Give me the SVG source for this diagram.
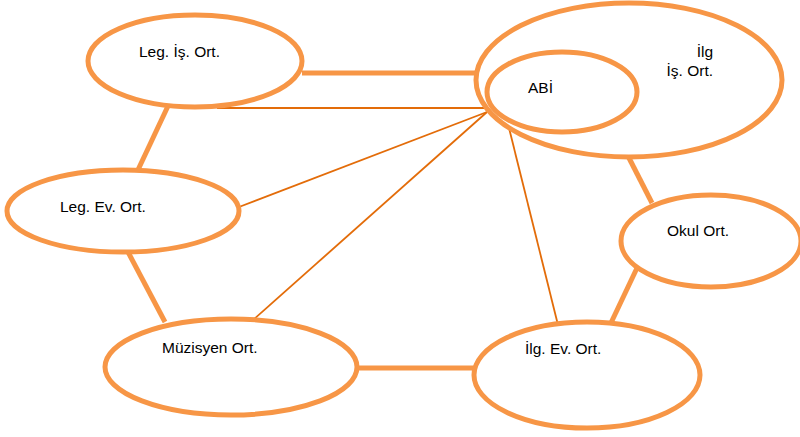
<svg xmlns="http://www.w3.org/2000/svg" width="800" height="437" viewBox="0 0 800 437">
<style>
.n{fill:none;stroke:#F79646;stroke-width:5}
.bg{fill:#fff;stroke:#F79646;stroke-width:5}
.thick{stroke:#F79646;stroke-width:5;fill:none}
.thin{stroke:#E36C09;stroke-width:1.8;fill:none}
text{font-family:"Liberation Sans",Arial,sans-serif;font-size:15.5px;fill:#000}
</style>
<rect width="800" height="437" fill="#fff"/>
<g id="connectors">
<line class="thick" x1="302" y1="73" x2="477" y2="73"/>
<line class="thick" x1="168" y1="106" x2="137" y2="172"/>
<line class="thick" x1="128" y1="252" x2="165" y2="322"/>
<line class="thick" x1="356" y1="368" x2="476" y2="368"/>
<line class="thick" x1="628" y1="156" x2="652" y2="203"/>
<line class="thick" x1="637" y1="268" x2="610" y2="325"/>
<polyline class="thin" points="217,108 485,108"/>
<line class="thin" x1="239" y1="207" x2="487" y2="112"/>
<line class="thin" x1="253" y1="320" x2="487" y2="112"/>
<line class="thin" x1="509" y1="128" x2="558" y2="325"/>
</g>
<g id="leg-is-ort"><ellipse class="bg" cx="195" cy="61" rx="107" ry="46"/><text x="139" y="57">Leg. İş. Ort.</text></g>
<g id="leg-ev-ort"><ellipse class="bg" cx="123" cy="211" rx="116" ry="41"/><text x="60" y="212">Leg. Ev. Ort.</text></g>
<g id="muzisyen-ort"><ellipse class="bg" cx="231" cy="367" rx="126" ry="48"/><text x="162" y="353">Müzisyen Ort.</text></g>
<g id="ilg-ev-ort"><ellipse class="bg" cx="587" cy="375" rx="113" ry="53"/><text x="525" y="354">İlg. Ev. Ort.</text></g>
<g id="okul-ort"><ellipse class="bg" cx="711" cy="241" rx="90" ry="46"/><text x="667" y="236">Okul Ort.</text></g>
<g id="ilg-is-ort"><ellipse class="bg" cx="629" cy="80" rx="153" ry="77"/><text x="713" y="57" text-anchor="end">İlg</text><text x="713" y="76" text-anchor="end">İş. Ort.</text></g>
<g id="abi"><ellipse class="n" cx="562" cy="92" rx="75" ry="40"/><text x="528" y="93">ABİ</text></g>
</svg>
